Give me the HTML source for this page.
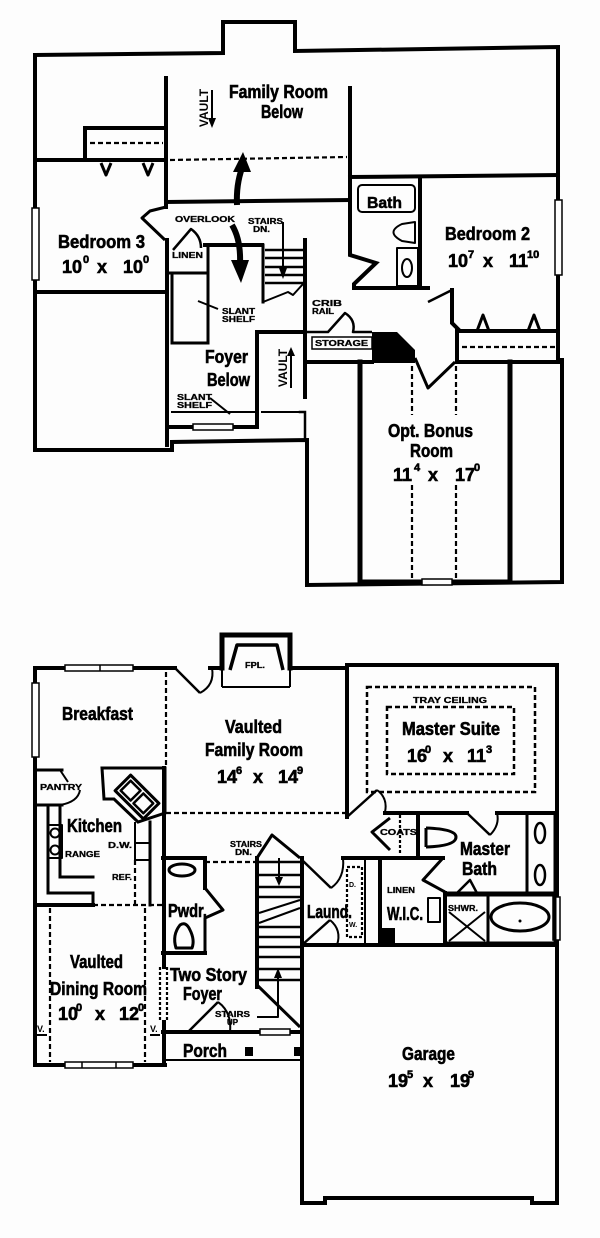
<!DOCTYPE html>
<html><head><meta charset="utf-8"><style>
html,body{margin:0;padding:0;background:#fdfdfd;}
svg{display:block;}
text{font-family:"Liberation Sans",Arial,sans-serif;font-weight:bold;fill:#000;}
.r{font-size:18px;stroke:#000;stroke-width:0.6px;}
.n{font-size:18px;stroke:#000;stroke-width:0.6px;}
.s{font-size:11px;}
.t{font-size:8px;stroke:#000;stroke-width:0.3px;}
</style></head><body>
<svg width="600" height="1238" viewBox="0 0 600 1238" xmlns="http://www.w3.org/2000/svg">
<rect width="600" height="1238" fill="#fdfdfd"/>

<!-- ================= UPPER FLOOR ================= -->
<g fill="none" stroke="#000" stroke-width="4" stroke-linecap="square" stroke-linejoin="miter">
  <path d="M35,55 L223,53 L223,22 L295,22 L295,51 L558,47 L558,362"/>
  <path d="M35,55 L35,450 L172,450 L172,442 L307,440 L307,585 L562,582 L562,360"/>
  <path d="M166,78 L166,207"/>
  <path d="M85,158 L85,128 L166,128"/>
  <path d="M38,160 L166,160"/>
  <path d="M166,202 L350,200"/>
  <path d="M350,88 L350,255 L376,263 L354,284 L354,288 L428,288"/>
  <path d="M350,177 L558,175"/>
  <path d="M420,177 L420,288"/>
  <path d="M452,290 L452,323 L460,331 L558,331"/>
  <path d="M457,331 L457,362 L562,362"/>
  <path d="M307,362 L372,362"/>
  <path d="M38,292 L167,292"/>
  <path d="M167,240 L167,445"/>
  <path d="M205,245 L262,245"/>
  <path d="M305,240 L305,397"/>
  <path d="M257,332 L305,332"/>
  <path d="M257,332 L257,427"/>
  <path d="M167,427 L257,427"/>
  <path d="M360,362 L360,582" stroke-width="5"/>
  <path d="M510,362 L510,582" stroke-width="5"/>
  <path d="M360,582 L510,582" stroke-width="5"/>
  <path d="M172,273 L172,343 L208,343 L208,245" stroke-width="3"/>
  <path d="M170,273 L207,273" stroke-width="3"/>
  <path d="M263,245 L263,302" stroke-width="3"/>
  <path d="M300,412 L305,412 L305,438" stroke-width="2.5"/>
  <path d="M262,412 L300,412" stroke-width="2"/>
  <path d="M172,412 L257,412" stroke-width="2"/>
</g>
<!-- windows upper -->
<g fill="#fdfdfd" stroke="#000" stroke-width="1.5">
  <rect x="32" y="208" width="7" height="72"/>
  <rect x="555" y="200" width="7" height="75"/>
  <rect x="193" y="424" width="40" height="6"/>
  <rect x="422" y="579" width="30" height="6"/>
</g>
<!-- dashed upper -->
<g fill="none" stroke="#000" stroke-width="2.2" stroke-dasharray="5 3">
  <path d="M90,143 L163,143"/>
  <path d="M170,160 L347,157"/>
  <path d="M462,347 L556,347"/>
  <path d="M412,366 L412,415"/>
  <path d="M412,485 L412,580"/>
  <path d="M456,366 L456,415"/>
  <path d="M456,485 L456,580"/>
</g>
<!-- upper fixtures / doors -->
<g fill="none" stroke="#000" stroke-width="3" stroke-linejoin="round">
  <path d="M101,163 L106,175 L111,163"/>
  <path d="M143,163 L148,175 L153,163"/>
  <path d="M477,331 L483,315 L489,331"/>
  <path d="M528,331 L534,315 L540,331"/>
  <rect x="358" y="185" width="57" height="27" rx="4" stroke-width="2"/>
  <path d="M415,222 L402,224 Q385,232 402,241 L415,243 Z" stroke-width="2"/>
  <rect x="397" y="248" width="21" height="38" stroke-width="2"/>
  <ellipse cx="407" cy="268" rx="5" ry="9" stroke-width="2"/>
  <path d="M428,302 L452,290" stroke-width="2.5"/>
  <path d="M415,358 L428,388 L455,362"/>
  <path d="M305,332 L328,332 L345,313 Q356,320 353,332 L372,332" stroke-width="2.5"/>
  <path d="M166,207 L150,211 L142,218 L165,240" stroke-width="3"/>
  <path d="M173,250 L191,229 Q201,236 201,248" stroke-width="2.5"/>
  <path d="M265,250 L303,250 M265,258 L303,258 M265,267 L303,267 M265,275 L303,275 M265,283 L303,283" stroke-width="2.5"/>
  <path d="M263,302 L288,292 L293,295 L303,284" stroke-width="2"/>
  <path d="M283,222 L283,272" stroke-width="2"/>
  <path d="M198,301 L218,309" stroke-width="2"/>
  <path d="M210,398 L230,414" stroke-width="2"/>
  <path d="M212,90 L212,122" stroke-width="2"/>
  <path d="M291,354 L291,388" stroke-width="2"/>
  <path d="M237,205 Q236,185 242,168" stroke-width="6"/>
  <path d="M232,225 Q241,240 240,264" stroke-width="6"/>
</g>
<g fill="#000" stroke="none">
  <polygon points="372,332 397,332 415,350 415,363 372,363"/>
  <polygon points="279,268 287,268 283,279"/>
  <polygon points="208,118 216,118 212,128"/>
  <polygon points="287,356 295,356 291,347"/>
  <polygon points="233,172 251,172 243,152"/>
  <polygon points="231,260 249,260 241,283"/>
</g>
<rect x="312" y="337" width="60" height="12" fill="none" stroke="#000" stroke-width="1.5"/>

<!-- upper text -->
<text class="r" x="229" y="98" textLength="99" lengthAdjust="spacingAndGlyphs">Family Room</text>
<text class="r" x="261" y="118" textLength="42" lengthAdjust="spacingAndGlyphs">Below</text>
<text class="r" x="58" y="248" textLength="87" lengthAdjust="spacingAndGlyphs">Bedroom 3</text>
<text class="n" y="273"><tspan x="62">10</tspan><tspan class="s" x="83" y="263">0</tspan><tspan x="97" y="273">x</tspan><tspan x="123" y="273">10</tspan><tspan class="s" x="143" y="263">0</tspan></text>
<text x="367" y="208" style="font-size:16px;stroke:#000;stroke-width:0.5px" textLength="35" lengthAdjust="spacingAndGlyphs">Bath</text>
<text class="r" x="445" y="240" textLength="85" lengthAdjust="spacingAndGlyphs">Bedroom 2</text>
<text class="n" y="267"><tspan x="448">10</tspan><tspan class="s" x="468" y="258">7</tspan><tspan x="483" y="267">x</tspan><tspan x="509" y="267">11</tspan><tspan class="s" x="527" y="258">10</tspan></text>
<text class="r" x="205" y="363" textLength="43" lengthAdjust="spacingAndGlyphs">Foyer</text>
<text class="r" x="207" y="386" textLength="43" lengthAdjust="spacingAndGlyphs">Below</text>
<text class="r" x="388" y="437" textLength="85" lengthAdjust="spacingAndGlyphs">Opt. Bonus</text>
<text class="r" x="410" y="457" textLength="43" lengthAdjust="spacingAndGlyphs">Room</text>
<text class="n" y="481"><tspan x="393">11</tspan><tspan class="s" x="414" y="471">4</tspan><tspan x="428" y="481">x</tspan><tspan x="455" y="481">17</tspan><tspan class="s" x="474" y="471">0</tspan></text>
<text class="t" x="175" y="222" textLength="60" lengthAdjust="spacingAndGlyphs">OVERLOOK</text>
<text class="t" x="248" y="224" textLength="35" lengthAdjust="spacingAndGlyphs">STAIRS</text>
<text class="t" x="253" y="232" textLength="17" lengthAdjust="spacingAndGlyphs">DN.</text>
<text class="t" x="172" y="258" textLength="31" lengthAdjust="spacingAndGlyphs">LINEN</text>
<text class="t" x="222" y="314" textLength="33" lengthAdjust="spacingAndGlyphs">SLANT</text>
<text class="t" x="222" y="322" textLength="33" lengthAdjust="spacingAndGlyphs">SHELF</text>
<text class="t" x="177" y="400" textLength="35" lengthAdjust="spacingAndGlyphs">SLANT</text>
<text class="t" x="177" y="408" textLength="35" lengthAdjust="spacingAndGlyphs">SHELF</text>
<text class="t" x="312" y="306" textLength="30" lengthAdjust="spacingAndGlyphs">CRIB</text>
<text class="t" x="312" y="314" textLength="22" lengthAdjust="spacingAndGlyphs">RAIL</text>
<text class="t" x="315" y="346" textLength="53" lengthAdjust="spacingAndGlyphs">STORAGE</text>
<text transform="translate(208,108) rotate(-90)" text-anchor="middle" style="font-size:12px">VAULT</text>
<text transform="translate(287,368) rotate(-90)" text-anchor="middle" style="font-size:12px">VAULT</text>

<!-- ================= LOWER FLOOR ================= -->
<g fill="none" stroke="#000" stroke-width="4" stroke-linecap="square" stroke-linejoin="miter">
  <path d="M35,668 L175,668"/>
  <path d="M210,668 L222,668"/>
  <path d="M222,668 L222,635 L290,635 L290,668" stroke-width="5"/>
  <path d="M290,668 L347,668"/>
  <path d="M347,665 L557,665"/>
  <path d="M35,668 L35,1065 L165,1065"/>
  <path d="M557,665 L557,1203"/>
  <path d="M302,945 L302,1203 L325,1203 L325,1198 L532,1198 L532,1203 L557,1203"/>
  <path d="M302,945 L557,945"/>
  <path d="M347,665 L347,817"/>
  <path d="M385,813 L467,813"/>
  <path d="M497,813 L557,813"/>
  <path d="M164,768 L164,967"/>
  <path d="M164,1022 L164,1065"/>
  <path d="M163,858 L205,858 L205,888"/>
  <path d="M163,953 L205,953"/>
  <path d="M257,858 L257,987"/>
  <path d="M302,858 L302,1032"/>
  <path d="M163,1032 L302,1032"/>
  <path d="M343,858 L443,858"/>
  <path d="M380,858 L380,945"/>
  <path d="M418,813 L418,858"/>
  <path d="M445,893 L445,945"/>
  <path d="M35,905 L93,905"/>
  <path d="M35,770 L62,770" stroke-width="3"/>
  <path d="M35,805 L62,805" stroke-width="3"/>
  <path d="M48,805 L48,893 L93,893 L93,905" stroke-width="3"/>
  <path d="M60,805 L60,877 L93,877" stroke-width="3"/>
  <path d="M102,768 L165,768 L165,813 L138,822 L114,799 L104,799 Z" stroke-width="3"/>
  <path d="M150,822 L150,905" stroke-width="3"/>
  <path d="M445,893 L557,893" stroke-width="3"/>
  <path d="M527,813 L527,893" stroke-width="3"/>
  <path d="M365,858 L365,945" stroke-width="2"/>
</g>
<!-- windows lower -->
<g fill="#fdfdfd" stroke="#000" stroke-width="1.5">
  <rect x="65" y="665" width="68" height="6"/>
  <line x1="100" y1="665" x2="100" y2="671"/>
  <rect x="32" y="683" width="7" height="74"/>
  <rect x="65" y="1062" width="68" height="6"/>
  <line x1="82" y1="1062" x2="82" y2="1068"/>
  <line x1="116" y1="1062" x2="116" y2="1068"/>
  <rect x="260" y="1029" width="30" height="6"/>
  <rect x="553" y="897" width="7" height="43"/>
</g>
<!-- dashed lower -->
<g fill="none" stroke="#000" stroke-width="2.2" stroke-dasharray="5 3">
  <path d="M166,672 L166,768"/>
  <path d="M166,813 L345,813"/>
  <path d="M93,905 L163,905"/>
  <path d="M135,860 L135,905"/>
  <path d="M205,862 L255,862"/>
  <path d="M50,908 L50,1062"/>
  <path d="M145,908 L145,1062"/>
  <path d="M160,967 L160,1022" stroke-dasharray="3 2"/>
  <path d="M167,967 L167,1022" stroke-dasharray="3 2"/>
  <path d="M400,815 L400,855" stroke-dasharray="3 2"/>
  <rect x="347" y="867" width="15" height="70" stroke-dasharray="3 2"/>
  <rect x="367" y="687" width="168" height="105" stroke-width="2.5"/>
  <rect x="387" y="707" width="127" height="67" stroke-width="2.5"/>
</g>
<!-- lower fixtures / doors -->
<g fill="none" stroke="#000" stroke-width="3" stroke-linejoin="round">
  <path d="M175,668 L200,693" stroke-width="2.5"/>
  <path d="M200,693 Q215,685 212,668" stroke-width="2"/>
  <path d="M222,687 L290,687" stroke-width="2"/>
  <path d="M222,668 L222,687 M290,668 L290,687" stroke-width="2"/>
  <path d="M230,670 L237,645 L277,645 L283,670" stroke-width="3.5"/>
  <path d="M60,770 L68,782" stroke-width="2"/>
  <path d="M60,805 Q78,802 80,790" stroke-width="2"/>
  <rect x="48" y="825" width="14" height="33" stroke-width="2"/>
  <circle cx="55" cy="833" r="4.5" stroke-width="2"/>
  <circle cx="55" cy="850" r="4.5" stroke-width="2"/>
  <path d="M135,822 L135,843" stroke-width="2"/>
  <rect x="135" y="843" width="15" height="17" stroke-width="2"/>
  <g transform="translate(137,797) rotate(45)">
    <rect x="-20" y="-11" width="40" height="22" stroke-width="3"/>
    <rect x="-16" y="-7" width="14" height="14" stroke-width="2.5"/>
    <rect x="2" y="-7" width="14" height="14" stroke-width="2.5"/>
  </g>
  <ellipse cx="182" cy="870" rx="13" ry="6"/>
  <path d="M176,948 Q172,935 180,925 Q186,921 190,930 Q195,940 192,948 Z"/>
  <path d="M205,888 L223,910 L205,918 L205,953"/>
  <path d="M257,858 L272,835 L300,858"/>
  <path d="M257,862 L302,862" stroke-width="2.5"/>
  <path d="M259,875 L300,875 M259,887 L300,887 M259,897 L300,897 M259,927 L300,927 M259,937 L300,937 M259,947 L300,947 M259,957 L300,957 M259,969 L300,969 M259,980 L300,980" stroke-width="2.5"/>
  <path d="M259,913 L300,900 M259,923 L300,908" stroke-width="2"/>
  <path d="M279,858 L279,878" stroke-width="2"/>
  <path d="M257,985 L300,1027"/>
  <path d="M257,1017 L278,1017 L278,975" stroke-width="2"/>
  <path d="M188,1032 L218,1002" stroke-width="2.5"/>
  <path d="M218,1002 Q232,1012 230,1032" stroke-width="2"/>
  <path d="M163,1060 L302,1060" stroke-width="2"/>
  <path d="M302,860 L331,888" stroke-width="2.5"/>
  <path d="M331,888 Q345,878 343,858" stroke-width="2"/>
  <path d="M302,945 L330,920" stroke-width="2.5"/>
  <path d="M330,920 Q342,930 337,945" stroke-width="2"/>
  <path d="M347,817 L377,790" stroke-width="2.5"/>
  <path d="M377,790 Q388,798 385,812" stroke-width="2"/>
  <path d="M390,818 L372,832 L390,850"/>
  <path d="M467,813 L490,835" stroke-width="2.5"/>
  <path d="M490,835 Q500,825 497,813" stroke-width="2"/>
  <path d="M426,828 L426,847 M426,828 Q456,829 456,837 Q456,846 426,847"/>
  <path d="M443,858 L423,880 L445,892"/>
  <rect x="428" y="898" width="12" height="24" stroke-width="2"/>
  <rect x="445" y="895" width="43" height="48"/>
  <path d="M449,912 L485,941 M485,912 L449,941" stroke-width="2"/>
  <path d="M455,895 L470,880 L478,895" stroke-width="2.5"/>
  <rect x="488" y="895" width="67" height="48"/>
  <ellipse cx="520" cy="917" rx="29" ry="14"/>
  <rect x="527" y="813" width="28" height="80"/>
  <ellipse cx="540" cy="833" rx="5" ry="10" stroke-width="2.5"/>
  <ellipse cx="540" cy="875" rx="5" ry="10" stroke-width="2.5"/>
  <path d="M37,1035 L47,1035 M150,1035 L160,1035" stroke-width="2"/>
</g>
<g fill="#000" stroke="none">
  <polygon points="275,877 283,877 279,886"/>
  <polygon points="274,978 282,978 278,968"/>
  <rect x="245" y="1047" width="8" height="9"/>
  <rect x="294" y="1047" width="8" height="9"/>
  <rect x="380" y="928" width="15" height="18"/>
  <circle cx="520" cy="921" r="1.5"/>
</g>

<!-- lower text -->
<text class="t" x="245" y="668" textLength="20" lengthAdjust="spacingAndGlyphs">FPL.</text>
<text class="r" x="62" y="720" textLength="71" lengthAdjust="spacingAndGlyphs">Breakfast</text>
<text class="r" x="225" y="733" textLength="57" lengthAdjust="spacingAndGlyphs">Vaulted</text>
<text class="r" x="205" y="756" textLength="98" lengthAdjust="spacingAndGlyphs">Family Room</text>
<text class="n" y="783"><tspan x="217">14</tspan><tspan class="s" x="236" y="774">6</tspan><tspan x="253" y="783">x</tspan><tspan x="278" y="783">14</tspan><tspan class="s" x="297" y="774">9</tspan></text>
<text class="t" x="413" y="703" textLength="74" lengthAdjust="spacingAndGlyphs">TRAY CEILING</text>
<text class="r" x="402" y="735" textLength="98" lengthAdjust="spacingAndGlyphs">Master Suite</text>
<text class="n" y="762"><tspan x="407">16</tspan><tspan class="s" x="425" y="753">0</tspan><tspan x="443" y="762">x</tspan><tspan x="467" y="762">11</tspan><tspan class="s" x="486" y="753">3</tspan></text>
<text class="t" x="40" y="790" textLength="42" lengthAdjust="spacingAndGlyphs">PANTRY</text>
<text class="r" x="67" y="832" textLength="55" lengthAdjust="spacingAndGlyphs">Kitchen</text>
<text class="t" x="65" y="857" textLength="35" lengthAdjust="spacingAndGlyphs">RANGE</text>
<text class="t" x="108" y="848" textLength="24" lengthAdjust="spacingAndGlyphs">D.W.</text>
<text class="t" x="112" y="880" textLength="20" lengthAdjust="spacingAndGlyphs">REF.</text>
<text class="t" x="230" y="847" textLength="32" lengthAdjust="spacingAndGlyphs">STAIRS</text>
<text class="t" x="235" y="855" textLength="17" lengthAdjust="spacingAndGlyphs">DN.</text>
<text class="t" x="380" y="835" textLength="37" lengthAdjust="spacingAndGlyphs">COATS</text>
<text class="r" x="460" y="855" textLength="50" lengthAdjust="spacingAndGlyphs">Master</text>
<text class="r" x="462" y="875" textLength="35" lengthAdjust="spacingAndGlyphs">Bath</text>
<text class="t" x="387" y="893" textLength="28" lengthAdjust="spacingAndGlyphs">LINEN</text>
<text class="r" x="387" y="920" textLength="36" lengthAdjust="spacingAndGlyphs">W.I.C.</text>
<text class="t" x="448" y="911" textLength="30" lengthAdjust="spacingAndGlyphs">SHWR.</text>
<text style="font-size:7px" x="349" y="887">D.</text>
<text style="font-size:7px" x="349" y="927">W.</text>
<text class="r" x="307" y="918" textLength="45" lengthAdjust="spacingAndGlyphs">Laund.</text>
<text class="r" x="168" y="917" textLength="39" lengthAdjust="spacingAndGlyphs">Pwdr.</text>
<text class="r" x="70" y="968" textLength="53" lengthAdjust="spacingAndGlyphs">Vaulted</text>
<text class="r" x="50" y="995" textLength="97" lengthAdjust="spacingAndGlyphs">Dining Room</text>
<text class="n" y="1020"><tspan x="58">10</tspan><tspan class="s" x="76" y="1011">0</tspan><tspan x="95" y="1020">x</tspan><tspan x="119" y="1020">12</tspan><tspan class="s" x="138" y="1011">0</tspan></text>
<text class="r" x="170" y="981" textLength="77" lengthAdjust="spacingAndGlyphs">Two Story</text>
<text class="r" x="183" y="1000" textLength="39" lengthAdjust="spacingAndGlyphs">Foyer</text>
<text class="t" x="215" y="1017" textLength="35" lengthAdjust="spacingAndGlyphs">STAIRS</text>
<text class="t" x="227" y="1025" textLength="11" lengthAdjust="spacingAndGlyphs">UP</text>
<text style="font-size:9px" x="37" y="1032">V.</text>
<text style="font-size:9px" x="150" y="1032">V.</text>
<text class="r" x="183" y="1057" textLength="44" lengthAdjust="spacingAndGlyphs">Porch</text>
<text class="r" x="402" y="1060" textLength="53" lengthAdjust="spacingAndGlyphs">Garage</text>
<text class="n" y="1087"><tspan x="388">19</tspan><tspan class="s" x="407" y="1078">5</tspan><tspan x="423" y="1087">x</tspan><tspan x="450" y="1087">19</tspan><tspan class="s" x="468" y="1078">9</tspan></text>
</svg>
</body></html>
